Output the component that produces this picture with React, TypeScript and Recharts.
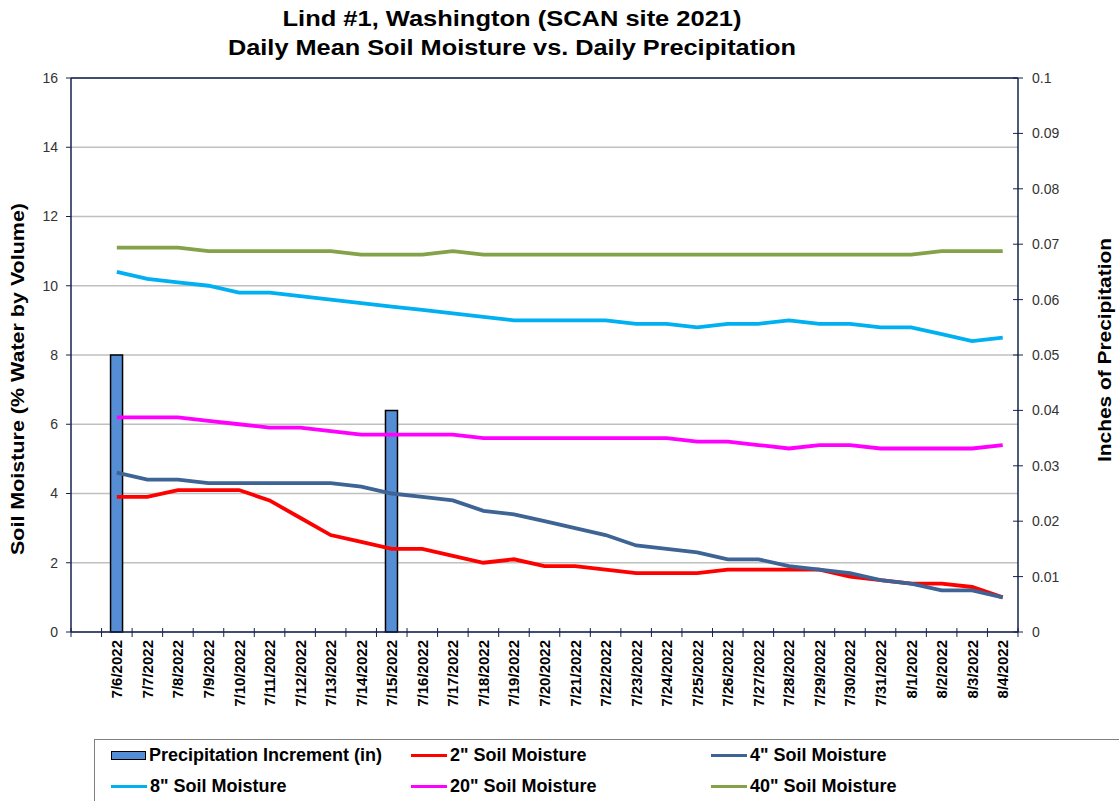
import React from 'react';
import {
  ComposedChart, Bar, Line, XAxis, YAxis, CartesianGrid, ReferenceLine,
} from 'recharts';

const DATES = [
  '', '7/6/2022', '7/7/2022', '7/8/2022', '7/9/2022', '7/10/2022', '7/11/2022', '7/12/2022',
  '7/13/2022', '7/14/2022', '7/15/2022', '7/16/2022', '7/17/2022', '7/18/2022', '7/19/2022',
  '7/20/2022', '7/21/2022', '7/22/2022', '7/23/2022', '7/24/2022', '7/25/2022', '7/26/2022',
  '7/27/2022', '7/28/2022', '7/29/2022', '7/30/2022', '7/31/2022', '8/1/2022', '8/2/2022',
  '8/3/2022', '8/4/2022',
];

// precipitation (in), right axis
const PRECIP = [null, 0.05, 0, 0, 0, 0, 0, 0, 0, 0, 0.04, 0, 0, 0, 0, 0, 0, 0, 0, 0, 0, 0, 0, 0, 0, 0, 0, 0, 0, 0, 0];

// soil moisture (%), left axis
const SM2 = [null, 3.9, 3.9, 4.1, 4.1, 4.1, 3.8, 3.3, 2.8, 2.6, 2.4, 2.4, 2.2, 2.0, 2.1, 1.9, 1.9, 1.8, 1.7, 1.7, 1.7, 1.8, 1.8, 1.8, 1.8, 1.6, 1.5, 1.4, 1.4, 1.3, 1.0];
const SM4 = [null, 4.6, 4.4, 4.4, 4.3, 4.3, 4.3, 4.3, 4.3, 4.2, 4.0, 3.9, 3.8, 3.5, 3.4, 3.2, 3.0, 2.8, 2.5, 2.4, 2.3, 2.1, 2.1, 1.9, 1.8, 1.7, 1.5, 1.4, 1.2, 1.2, 1.0];
const SM8 = [null, 10.4, 10.2, 10.1, 10.0, 9.8, 9.8, 9.7, 9.6, 9.5, 9.4, 9.3, 9.2, 9.1, 9.0, 9.0, 9.0, 9.0, 8.9, 8.9, 8.8, 8.9, 8.9, 9.0, 8.9, 8.9, 8.8, 8.8, 8.6, 8.4, 8.5];
const SM20 = [null, 6.2, 6.2, 6.2, 6.1, 6.0, 5.9, 5.9, 5.8, 5.7, 5.7, 5.7, 5.7, 5.6, 5.6, 5.6, 5.6, 5.6, 5.6, 5.6, 5.5, 5.5, 5.4, 5.3, 5.4, 5.4, 5.3, 5.3, 5.3, 5.3, 5.4];
const SM40 = [null, 11.1, 11.1, 11.1, 11.0, 11.0, 11.0, 11.0, 11.0, 10.9, 10.9, 10.9, 11.0, 10.9, 10.9, 10.9, 10.9, 10.9, 10.9, 10.9, 10.9, 10.9, 10.9, 10.9, 10.9, 10.9, 10.9, 10.9, 11.0, 11.0, 11.0];

const LEFT_TICKS = [0, 2, 4, 6, 8, 10, 12, 14, 16];
const RIGHT_TICKS = [0, 0.01, 0.02, 0.03, 0.04, 0.05, 0.06, 0.07, 0.08, 0.09, 0.1];
const RIGHT_LABELS = ['0', '0.01', '0.02', '0.03', '0.04', '0.05', '0.06', '0.07', '0.08', '0.09', '0.1'];

const data = DATES.map((d, i) => ({
  date: d,
  precip: PRECIP[i],
  sm2: SM2[i],
  sm4: SM4[i],
  sm8: SM8[i],
  sm20: SM20[i],
  sm40: SM40[i],
}));

const FONT = '"Liberation Sans", Arial, sans-serif';
const AXIS = '#14224f';
const PLOT_W = 947;

const C = {
  bar: '#558ED5',
  sm2: '#FF0000',
  sm4: '#3D6495',
  sm8: '#00B0F0',
  sm20: '#FF00FF',
  sm40: '#84A249',
};

const XTick = (props: any) => {
  const { x, y, payload, index } = props;
  const band = PLOT_W / DATES.length;
  const bx = x - band / 2;
  return (
    <g>
      <line x1={bx} x2={bx} y1={y - 4} y2={y + 5} stroke={AXIS} strokeWidth={1} />
      {index === DATES.length - 1 && (
        <line x1={x + band / 2} x2={x + band / 2} y1={y - 4} y2={y + 5} stroke={AXIS} strokeWidth={1} />
      )}
      <text
        x={x}
        y={y + 8}
        transform={`rotate(-90 ${x} ${y + 8})`}
        textAnchor="end"
        dominantBaseline="central"
        fontFamily={FONT}
        fontWeight="bold"
        fontSize={15}
        fill="#000"
      >
        {payload.value}
      </text>
    </g>
  );
};

const RightTick = (props: any) => {
  const { x, y, index } = props;
  return (
    <g>
      <line x1={x - 5} x2={x + 5} y1={y} y2={y} stroke={AXIS} strokeWidth={1} />
      <text x={x + 14} y={y} dominantBaseline="central" fontFamily={FONT} fontSize={14} fill="#333">
        {RIGHT_LABELS[index]}
      </text>
    </g>
  );
};

const LegendItem = ({ color, label, bar }: { color: string; label: string; bar?: boolean }) => (
  <div style={{ display: 'flex', alignItems: 'center', width: 300 }}>
    {bar ? (
      <div style={{ width: 33, height: 7, background: color, border: '1.5px solid #000', marginRight: 3 }} />
    ) : (
      <div style={{ width: 36, height: 3, background: color, marginRight: 3 }} />
    )}
    <span>{label}</span>
  </div>
);

export default function App() {
  return (
    <div style={{ position: 'absolute', left: 0, top: 0, width: 1119, height: 801, background: '#fff', overflow: 'hidden' }}>
      <svg width={1119} height={70} style={{ position: 'absolute', left: 0, top: 0 }}>
        <text x={512} y={26} textAnchor="middle" fontFamily={FONT} fontWeight="bold" fontSize={22}
          textLength={459} lengthAdjust="spacingAndGlyphs">
          Lind #1, Washington (SCAN site 2021)
        </text>
        <text x={512} y={55} textAnchor="middle" fontFamily={FONT} fontWeight="bold" fontSize={22}
          textLength={568} lengthAdjust="spacingAndGlyphs">
          Daily Mean Soil Moisture vs. Daily Precipitation
        </text>
      </svg>
      <div style={{ position: 'absolute', left: 0, top: 0 }}>
        <ComposedChart width={1119} height={740} data={data} margin={{ top: 78, right: 0, bottom: 0, left: 0 }}>
          <CartesianGrid vertical={false} stroke="#C0C0C0" strokeWidth={1.5} />
          <XAxis
            dataKey="date"
            interval={0}
            height={108}
            tickSize={0}
            tickMargin={0}
            tickLine={false}
            tick={<XTick />}
            axisLine={{ stroke: AXIS, strokeWidth: 1.5 }}
          />
          <YAxis
            domain={[0, 16]}
            ticks={LEFT_TICKS}
            width={71}
            tickSize={5}
            tickMargin={8}
            tickLine={{ stroke: AXIS }}
            axisLine={{ stroke: AXIS, strokeWidth: 1.5 }}
            tick={{ fontFamily: FONT, fontSize: 14, fill: '#333' }}
            allowDataOverflow
          />
          <YAxis
            yAxisId="right"
            orientation="right"
            domain={[0, 0.1]}
            ticks={RIGHT_TICKS}
            width={101}
            tickSize={0}
            tickMargin={0}
            tickLine={false}
            tick={<RightTick />}
            axisLine={{ stroke: AXIS, strokeWidth: 1.5 }}
          />
          <ReferenceLine y={16} stroke={AXIS} strokeWidth={1.5} />
          <Bar dataKey="precip" yAxisId="right" barSize={12} fill={C.bar} stroke="#000" strokeWidth={1.5} isAnimationActive={false} />
          <Line dataKey="sm40" stroke={C.sm40} strokeWidth={3.8} dot={false} isAnimationActive={false} />
          <Line dataKey="sm8" stroke={C.sm8} strokeWidth={3.8} dot={false} isAnimationActive={false} />
          <Line dataKey="sm20" stroke={C.sm20} strokeWidth={3.8} dot={false} isAnimationActive={false} />
          <Line dataKey="sm2" stroke={C.sm2} strokeWidth={3.8} dot={false} isAnimationActive={false} />
          <Line dataKey="sm4" stroke={C.sm4} strokeWidth={3.8} dot={false} isAnimationActive={false} />
        </ComposedChart>
      </div>
      <svg width={1119} height={801} style={{ position: 'absolute', left: 0, top: 0, pointerEvents: 'none' }}>
        <text x={18} y={379} transform="rotate(-90 18 379)" textAnchor="middle" dominantBaseline="central"
          fontFamily={FONT} fontWeight="bold" fontSize={18} textLength={352} lengthAdjust="spacingAndGlyphs">
          Soil Moisture (% Water by Volume)
        </text>
        <text x={1105} y={350} transform="rotate(-90 1105 350)" textAnchor="middle" dominantBaseline="central"
          fontFamily={FONT} fontWeight="bold" fontSize={18} textLength={224} lengthAdjust="spacingAndGlyphs">
          Inches of Precipitation
        </text>
      </svg>
      <div
        style={{
          position: 'absolute', left: 94, top: 739, width: 1040, height: 80,
          border: '1px solid #808080', boxSizing: 'border-box',
          fontFamily: FONT, fontWeight: 'bold', fontSize: 18,
        }}
      >
        <div style={{ display: 'flex', paddingLeft: 16, marginTop: 4, height: 22 }}>
          <LegendItem color={C.bar} label="Precipitation Increment (in)" bar />
          <LegendItem color={C.sm2} label={'2" Soil Moisture'} />
          <LegendItem color={C.sm4} label={'4" Soil Moisture'} />
        </div>
        <div style={{ display: 'flex', paddingLeft: 16, marginTop: 9, height: 22 }}>
          <LegendItem color={C.sm8} label={'8" Soil Moisture'} />
          <LegendItem color={C.sm20} label={'20" Soil Moisture'} />
          <LegendItem color={C.sm40} label={'40" Soil Moisture'} />
        </div>
      </div>
    </div>
  );
}
